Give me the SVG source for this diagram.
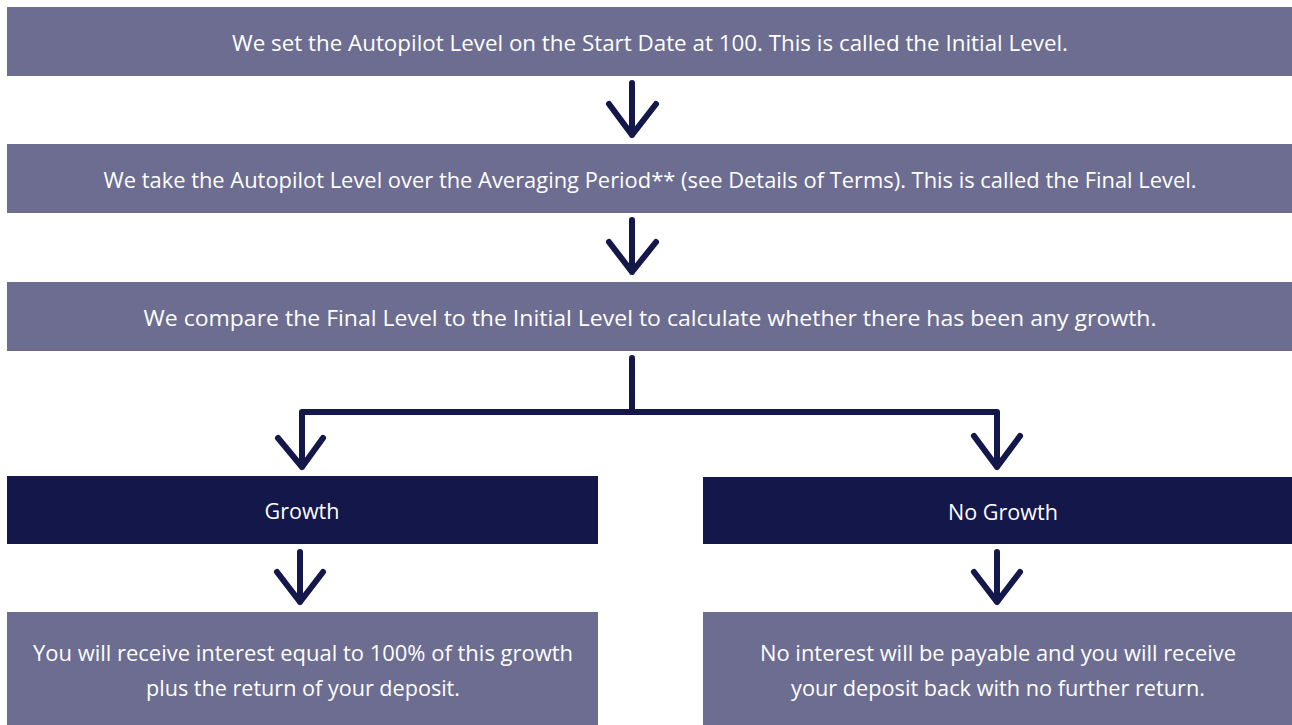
<svg xmlns="http://www.w3.org/2000/svg" width="1292" height="725" viewBox="0 0 1292 725">
<style>
.lt{fill:#6c6d91}
.dk{fill:#14174a}
.t{font-family:"Open Sans","Liberation Sans",sans-serif;font-size:21px;fill:#ffffff;text-anchor:middle;dominant-baseline:central}
.c{fill:none;stroke:#14174a;stroke-width:6;stroke-linecap:round;stroke-linejoin:round}
</style>
<rect width="1292" height="725" fill="#ffffff"/>
<g id="n1"><rect class="lt" x="7" y="7" width="1285" height="69"/><text class="t" x="650" y="43" textLength="836" lengthAdjust="spacingAndGlyphs">We set the Autopilot Level on the Start Date at 100. This is called the Initial Level.</text></g>
<g id="n2"><rect class="lt" x="7" y="144" width="1285" height="69"/><text class="t" x="650" y="180" textLength="1093" lengthAdjust="spacingAndGlyphs">We take the Autopilot Level over the Averaging Period** (see Details of Terms). This is called the Final Level.</text></g>
<g id="n3"><rect class="lt" x="7" y="282" width="1285" height="69"/><text class="t" x="650" y="318" textLength="1013" lengthAdjust="spacingAndGlyphs">We compare the Final Level to the Initial Level to calculate whether there has been any growth.</text></g>
<g id="n4"><rect class="dk" x="7" y="476" width="591" height="68"/><text class="t" x="302" y="511" textLength="75" lengthAdjust="spacingAndGlyphs">Growth</text></g>
<g id="n5"><rect class="dk" x="703" y="477" width="589" height="67"/><text class="t" x="1003" y="512" textLength="110" lengthAdjust="spacingAndGlyphs">No Growth</text></g>
<g id="n6"><rect class="lt" x="7" y="612" width="591" height="113"/><text class="t" x="303" y="653" textLength="540" lengthAdjust="spacingAndGlyphs">You will receive interest equal to 100% of this growth</text><text class="t" x="303" y="688" textLength="314" lengthAdjust="spacingAndGlyphs">plus the return of your deposit.</text></g>
<g id="n7"><rect class="lt" x="703" y="612" width="589" height="113"/><text class="t" x="998" y="653" textLength="476" lengthAdjust="spacingAndGlyphs">No interest will be payable and you will receive</text><text class="t" x="998" y="688" textLength="414" lengthAdjust="spacingAndGlyphs">your deposit back with no further return.</text></g>
<g id="connectors">
<path class="c" d="M632 83V135M609 104L632 135L656 104"/>
<path class="c" d="M632 220V272M609 242L632 272L656 242"/>
<path class="c" d="M632 358V412H302V467M278 438L302 467L323 438"/>
<path class="c" d="M632 412H997V467M974 436L997 467L1020 436"/>
<path class="c" d="M300 552V602M277 572L300 602L323 572"/>
<path class="c" d="M997 552V602M974 572L997 602L1020 572"/>
</g>
</svg>
